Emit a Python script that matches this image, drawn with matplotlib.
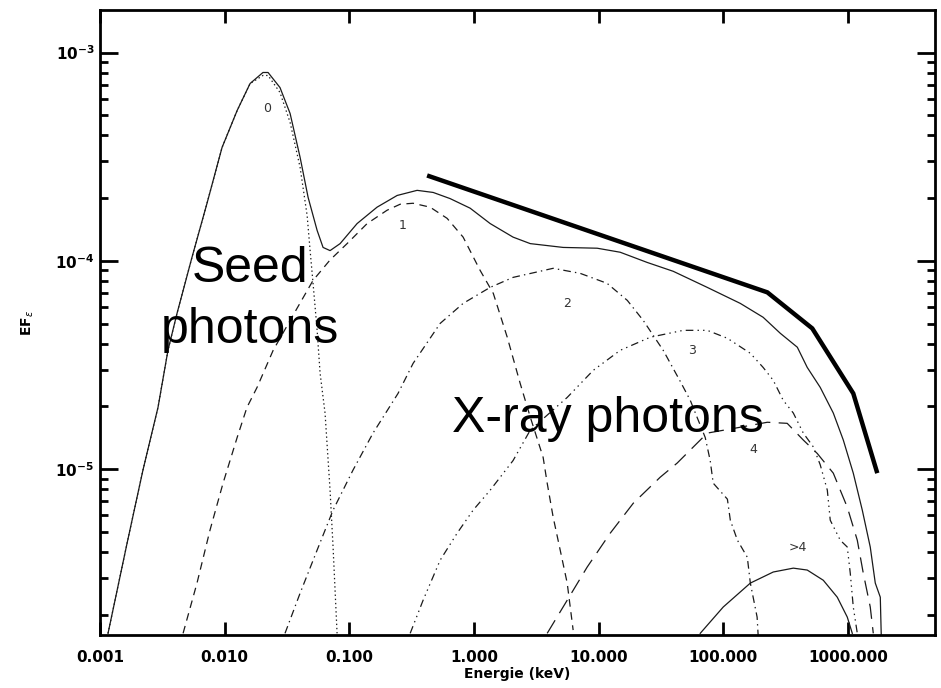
import numpy as np
import matplotlib
matplotlib.use("Agg")
import matplotlib.pyplot as plt
from matplotlib.ticker import FixedLocator, FixedFormatter, LogLocator, NullFormatter, NullLocator

plt.rcParams['lines.scale_dashes'] = False

# ---- spectra: energy (keV) vs E*F_E, one curve per scattering order ----
# total spectrum
e_tot = [0.00116, 0.00165, 0.00221, 0.00292, 0.00351, 0.00415, 0.00547, 0.00722, 0.00953,
         0.0126, 0.0160, 0.0203, 0.0223, 0.0278, 0.0335, 0.0403, 0.0467, 0.0552, 0.0616,
         0.0701, 0.0844, 0.1155, 0.167, 0.242, 0.350, 0.471, 0.644, 0.932, 1.35, 2.06,
         2.83, 5.20, 9.74, 14.9, 24.5, 39.7, 74.4, 137, 209, 287, 393, 472, 600, 764,
         919, 1105, 1305, 1512, 1659, 1820, 1854]
f_tot = [1.63e-6, 4.42e-6, 9.89e-6, 1.98e-5, 3.72e-5, 5.60e-5, 1.04e-4, 1.89e-4, 3.50e-4,
         5.27e-4, 7.10e-4, 8.02e-4, 8.02e-4, 6.79e-4, 5.10e-4, 3.14e-4, 2.02e-4, 1.40e-4, 1.16e-4,
         1.12e-4, 1.21e-4, 1.51e-4, 1.81e-4, 2.06e-4, 2.18e-4, 2.13e-4, 1.99e-4, 1.79e-4, 1.51e-4, 1.30e-4,
         1.21e-4, 1.16e-4, 1.15e-4, 1.10e-4, 9.83e-5, 8.91e-5, 7.46e-5, 6.25e-5, 5.36e-5, 4.49e-5, 3.85e-5, 3.08e-5, 2.47e-5, 1.86e-5,
         1.38e-5, 9.57e-6, 6.36e-6, 4.23e-6, 2.84e-6, 2.43e-6, 1.56e-6]

# order 0: unscattered seed photons
e_0 = [0.00116, 0.00165, 0.00221, 0.00292, 0.00351, 0.00415, 0.00547, 0.00722, 0.00953,
       0.0126, 0.0160, 0.0203, 0.0223, 0.0278, 0.0335, 0.0403, 0.0459, 0.0485, 0.0512,
       0.0552, 0.0583, 0.0639, 0.0701, 0.0741, 0.0798]
f_0 = [1.63e-6, 4.42e-6, 9.89e-6, 1.98e-5, 3.72e-5, 5.60e-5, 1.04e-4, 1.89e-4, 3.50e-4,
       5.27e-4, 7.10e-4, 7.76e-4, 7.76e-4, 6.43e-4, 4.62e-4, 2.81e-4, 1.65e-4, 1.12e-4, 7.80e-5,
       4.64e-5, 2.89e-5, 1.86e-5, 7.93e-6, 4.23e-6, 1.63e-6]

# order 1
e_1 = [0.00464, 0.00600, 0.00763, 0.00971, 0.0126, 0.0151, 0.0182, 0.0245, 0.0381, 0.0512,
       0.0701, 0.0960, 0.139, 0.201, 0.256, 0.325, 0.445, 0.609, 0.819, 1.12, 1.43, 1.85,
       2.35, 2.83, 3.59, 3.87, 4.32, 4.92, 5.60, 6.25]
f_1 = [1.63e-6, 2.84e-6, 5.10e-6, 8.57e-6, 1.42e-5, 1.98e-5, 2.47e-5, 3.72e-5, 5.92e-5, 8.06e-5,
       1.01e-4, 1.21e-4, 1.51e-4, 1.75e-4, 1.87e-4, 1.89e-4, 1.81e-4, 1.60e-4, 1.30e-4, 9.01e-5, 6.98e-5, 4.30e-5,
       2.58e-5, 1.78e-5, 1.14e-5, 8.57e-6, 5.89e-6, 4.09e-6, 2.84e-6, 1.69e-6]

# order 2
e_2 = [0.0305, 0.0403, 0.0552, 0.0741, 0.107, 0.155, 0.246, 0.325, 0.536, 0.819, 1.35, 2.06,
       4.32, 7.12, 11.7, 17.0, 22.8, 33.0, 45.2, 54.4, 63.0, 71.7, 78.6, 83.1, 108, 114,
       130, 156, 165, 187, 191]
f_2 = [1.63e-6, 2.54e-6, 4.09e-6, 6.36e-6, 9.89e-6, 1.49e-5, 2.31e-5, 3.22e-5, 5.01e-5, 6.25e-5, 7.46e-5, 8.33e-5,
       9.21e-5, 8.71e-5, 7.80e-5, 6.46e-5, 5.18e-5, 3.72e-5, 2.64e-5, 2.14e-5, 1.72e-5, 1.42e-5, 1.10e-5, 8.57e-6, 7.18e-6, 5.69e-6,
       4.56e-6, 3.78e-6, 2.84e-6, 1.95e-6, 1.56e-6]

# order 3
e_3 = [0.308, 0.391, 0.536, 0.733, 0.985, 1.35, 2.06, 2.83, 5.60, 9.05, 14.9, 26.0, 47.8,
       74.4, 108, 165, 209, 252, 303, 365, 439, 528, 600, 684, 722, 869, 989, 1045, 1105, 1190]
f_3 = [1.63e-6, 2.35e-6, 3.66e-6, 4.93e-6, 6.36e-6, 7.93e-6, 1.10e-5, 1.54e-5, 2.21e-5, 2.98e-5, 3.72e-5, 4.30e-5, 4.64e-5,
       4.64e-5, 4.25e-5, 3.60e-5, 3.08e-5, 2.67e-5, 2.14e-5, 1.86e-5, 1.49e-5, 1.28e-5, 1.05e-5, 7.93e-6, 5.69e-6, 4.56e-6, 4.23e-6, 3.17e-6, 2.18e-6, 1.63e-6]

# order 4
e_4 = [3.87, 5.60, 8.10, 12.4, 19.0, 31.2, 42.7, 74.4, 137, 226, 326, 439, 568, 764, 869,
       989, 1190, 1329, 1512, 1599]
f_4 = [1.63e-6, 2.35e-6, 3.39e-6, 4.93e-6, 6.87e-6, 9.15e-6, 1.07e-5, 1.49e-5, 1.59e-5, 1.68e-5, 1.66e-5, 1.38e-5, 1.19e-5, 9.57e-6, 7.93e-6,
       6.57e-6, 4.56e-6, 3.17e-6, 2.18e-6, 1.63e-6]

# orders above 4
e_5 = [65.4, 100, 165, 252, 365, 472, 635, 822, 989, 1085]
f_5 = [1.63e-6, 2.18e-6, 2.84e-6, 3.21e-6, 3.35e-6, 3.28e-6, 2.93e-6, 2.43e-6, 1.95e-6, 1.63e-6]

# broken power-law guide line over the Comptonised part
e_guide = [0.421, 226, 518, 1105, 1722]
f_guide = [2.57e-4, 7.06e-5, 4.74e-5, 2.31e-5, 9.57e-6]

order_labels = ['0', '1', '2', '3', '4', '>4']
order_label_e = [0.0219, 0.270, 5.60, 56.4, 175, 393]
order_label_f = [5.39e-4, 1.48e-4, 6.25e-5, 3.72e-5, 1.24e-5, 4.23e-6]

xtick_vals = [0.001, 0.01, 0.1, 1, 10, 100, 1000]
xtick_text = ['0.001', '0.010', '0.100', '1.000', '10.000', '100.000', '1000.000']

# ---- figure ----
W, H = 941, 688
fig = plt.figure(figsize=(W / 100, H / 100), dpi=100)
ax = fig.add_axes([100 / W, 1 - 635 / H, 835 / W, 625 / H])
ax.set_xscale('log')
ax.set_yscale('log')
ax.set_xlim(1e-3, 5e3)
ax.set_ylim(1.6e-6, 1.6e-3)

ink = '#1a1a1a'
lw = 0.9
ax.plot(e_tot, f_tot, color=ink, lw=lw)
ax.plot(e_0, f_0, color=ink, lw=lw, linestyle=(0, (1.0, 2.0)))
ax.plot(e_1, f_1, color=ink, lw=lw, linestyle=(0, (5.5, 4.0)))
ax.plot(e_2, f_2, color=ink, lw=lw, linestyle=(0, (5.5, 3.0, 1.0, 3.0)))
ax.plot(e_3, f_3, color=ink, lw=lw, linestyle=(0, (5.5, 3.0, 1.0, 3.0, 1.0, 3.0, 1.0, 3.0)))
ax.plot(e_4, f_4, color=ink, lw=lw, linestyle=(0, (11.0, 6.0)))
ax.plot(e_5, f_5, color=ink, lw=lw)

ax.plot(e_guide, f_guide, color='black', lw=3.2, solid_capstyle='butt', solid_joinstyle='miter')

for lab, ex, fy in zip(order_labels, order_label_e, order_label_f):
    ax.text(ex, fy, lab, ha='center', va='center', fontsize=9, color='#333333')

# multi-line text: baseline anchor sits on the last line
ax.text(0.0160, 4.02e-5, 'Seed\nphotons', ha='center', va='baseline', fontsize=36,
        family='Liberation Sans', linespacing=1.42)
ax.text(0.668, 1.504e-5, 'X-ray photons', ha='left', va='baseline', fontsize=36,
        family='Liberation Sans')

# axis frame and ticks
for sp in ax.spines.values():
    sp.set_linewidth(2.0)
ax.xaxis.set_major_locator(FixedLocator(xtick_vals))
ax.xaxis.set_major_formatter(FixedFormatter(xtick_text))
ax.xaxis.set_minor_locator(NullLocator())
ax.yaxis.set_major_locator(LogLocator(base=10))
ax.yaxis.set_minor_locator(LogLocator(base=10, subs=np.arange(2, 10)))
ax.yaxis.set_minor_formatter(NullFormatter())
ax.tick_params(axis='x', which='major', direction='in', length=9.5, width=2, top=True,
               labelsize=11, pad=11)
ax.tick_params(axis='y', which='major', direction='in', length=13, width=2, right=True,
               labelsize=11, pad=4)
ax.tick_params(axis='y', which='minor', direction='in', length=6, width=2, right=True)
for t in ax.get_xticklabels() + ax.get_yticklabels():
    t.set_fontweight('bold')

ax.set_xlabel('Energie (keV)', fontsize=10, fontweight='bold', labelpad=1)
ax.set_ylabel(r'EF$_\epsilon$', fontsize=10, fontweight='bold', labelpad=14)

fig.savefig('out.png', dpi=100)
